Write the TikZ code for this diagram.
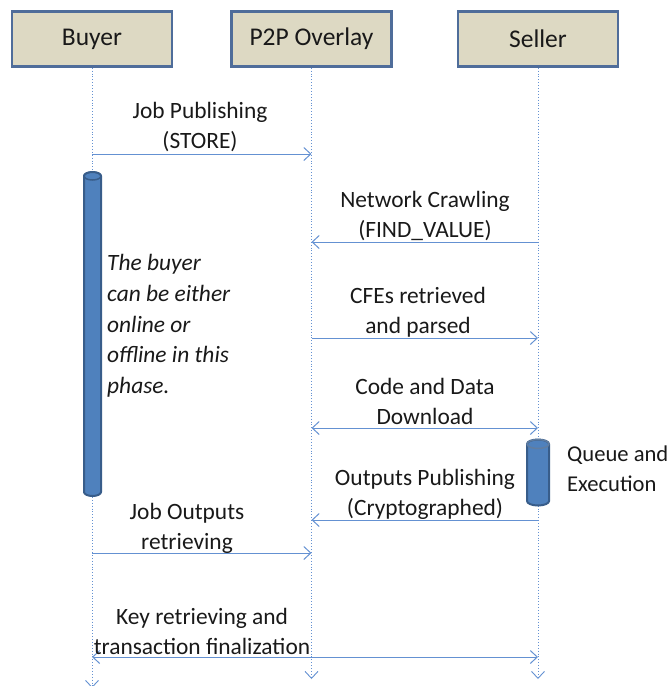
\documentclass[tikz,border=0pt]{standalone}
\usepackage{fontspec}
\setmainfont{Carlito}
\usetikzlibrary{arrows.meta}
\definecolor{boxfill}{RGB}{221,217,195}
\definecolor{boxdraw}{RGB}{79,109,154}
\definecolor{msg}{RGB}{100,145,210}
\definecolor{cylfill}{RGB}{79,129,189}
\definecolor{cyldraw}{RGB}{56,93,138}
\tikzset{
  actor/.style={draw=boxdraw, line width=2.5pt, fill=boxfill, minimum width=160pt, minimum height=55pt, inner sep=0pt, font=\fontsize{25.5}{28}\selectfont, text=black!90},
  life/.style={draw=msg, line width=0.9pt, dotted, -{Straight Barb[length=7pt,width=13pt,line width=0.9pt]}},
  msgarrow/.style={draw=msg, line width=1pt, -{Straight Barb[length=7pt,width=13pt]}},
  dblarrow/.style={draw=msg, line width=1pt, {Straight Barb[length=7pt,width=13pt]}-{Straight Barb[length=7pt,width=13pt]}},
  lbl/.style={align=center, inner sep=0pt, font=\fontsize{23.4}{30}\selectfont, text=black!90},
  lblleft/.style={align=left, inner sep=0pt, font=\fontsize{23.4}{30}\selectfont, text=black!90},
}
\begin{document}
\begin{tikzpicture}[x=1pt,y=-1pt]
\useasboundingbox (0,0) rectangle (672,686);
% actors
\node[actor] (buyer) at (92,39) {Buyer};
\node[actor] (overlay) at (311.5,39) {P2P Overlay};
\node[actor] (seller) at (538,39) {Seller};
% lifeline ends
\coordinate (bend) at (92,688);
\coordinate (oend) at (311.5,679);
\coordinate (send) at (538,679);
% lifelines
\draw[life] (buyer.south) -- (bend);
\draw[life] (overlay.south) -- (oend);
\draw[life] (seller.south) -- (send);
% activation cylinders
\draw[cyldraw, line width=2pt, fill=cylfill] (84,176) -- (84,492) arc[start angle=180,end angle=0,x radius=8.5,y radius=4] -- (101,176) arc[start angle=0,end angle=-180,x radius=8.5,y radius=4] -- cycle;
\draw[cyldraw, line width=1.5pt] (92.5,176) ellipse[x radius=8.5, y radius=4];
\draw[cyldraw, line width=2pt, fill=cylfill] (527,444) -- (527,501) arc[start angle=180,end angle=0,x radius=11,y radius=4.5] -- (549,444) arc[start angle=0,end angle=-180,x radius=11,y radius=4.5] -- cycle;
\draw[cyldraw!80!white, line width=1.5pt] (538,444) ellipse[x radius=11, y radius=4.5];
% message coordinates
\coordinate (b1) at (92,154);  \coordinate (o1) at (311.5,154);
\coordinate (s2) at (538,242); \coordinate (o2) at (311.5,242);
\coordinate (o3) at (311.5,338); \coordinate (s3) at (538,338);
\coordinate (o4) at (311.5,428); \coordinate (s4) at (538,428);
\coordinate (s5) at (538,520); \coordinate (o5) at (311.5,520);
\coordinate (b6) at (92,553);  \coordinate (o6) at (311.5,553);
\coordinate (b7) at (92,657);  \coordinate (s7) at (538,657);
% messages
\draw[msgarrow] (b1) -- (o1);
\draw[msgarrow] (s2) -- (o2);
\draw[msgarrow] (o3) -- (s3);
\draw[dblarrow] (o4) -- (s4);
\draw[msgarrow] (s5) -- (o5);
\draw[msgarrow] (b6) -- (o6);
\draw[dblarrow] (b7) -- (s7);
% labels
\node[lbl] (l1) at (200,127) {Job Publishing\\(STORE)};
\node[lbl] (l2) at (425,216) {Network Crawling\\(FIND\_VALUE)};
\node[lbl] (l3) at (418,312) {CFEs retrieved\\and parsed};
\node[lbl] (l4) at (425,401) {Code and Data\\Download};
\node[lbl] (l5) at (425,494) {Outputs Publishing\\(Cryptographed)};
\node[lbl] (l6) at (187,528) {Job Outputs\\retrieving};
\node[lbl] (l7) at (202,631) {Key retrieving and\\transaction finalization};
\node[lblleft, anchor=west, font=\fontsize{23.4}{30.7}\selectfont\itshape] (l8) at (107,326) {The buyer\\can be either\\online or\\offline in this\\phase.};
\node[lblleft, anchor=west, font=\fontsize{22.6}{30}\selectfont] (l9) at (567,469) {Queue and\\Execution};
\end{tikzpicture}
\end{document}
